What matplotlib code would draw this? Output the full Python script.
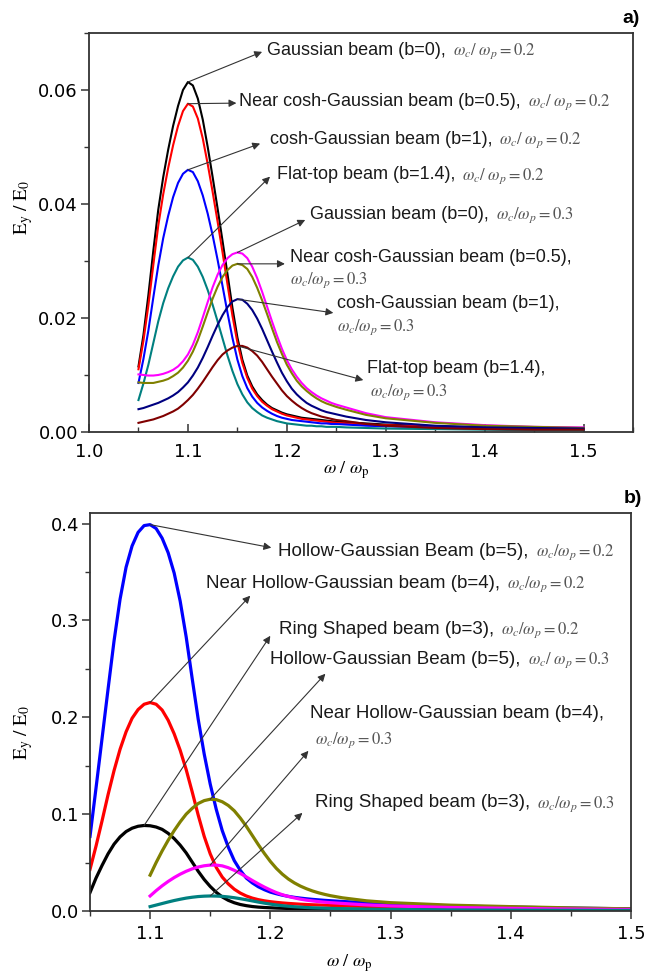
import numpy as np
import matplotlib
matplotlib.use('Agg')
import matplotlib.pyplot as plt
from matplotlib.ticker import MultipleLocator, FormatStrFormatter

plt.rcParams['font.family'] = ['Liberation Sans', 'DejaVu Sans']
plt.rcParams['mathtext.fontset'] = 'stix'

# frequency grid  omega / omega_p
freq = [1.050, 1.055, 1.060, 1.065, 1.070, 1.075, 1.080, 1.085,
        1.090, 1.095, 1.100, 1.105, 1.110, 1.115, 1.120, 1.125,
        1.130, 1.135, 1.140, 1.145, 1.150, 1.155, 1.160, 1.165,
        1.170, 1.175, 1.180, 1.185, 1.190, 1.195, 1.200, 1.205,
        1.210, 1.215, 1.220, 1.225, 1.230, 1.235, 1.240, 1.245,
        1.250, 1.260, 1.280, 1.300, 1.350, 1.400, 1.450, 1.500]
freq_late = freq[10:]   # panel b curves for wc/wp = 0.3 start at 1.10

# ---- panel a ----
a_gauss_02 = [0.0115, 0.0170, 0.0240, 0.0318, 0.0390, 0.0447, 0.0495, 0.0537,
              0.0572, 0.0600, 0.0614, 0.0608, 0.0585, 0.0548, 0.0500, 0.0447,
              0.0392, 0.0335, 0.0277, 0.0218, 0.0166, 0.0127, 0.0099, 0.0080,
              0.0066, 0.0056, 0.0048, 0.0042, 0.0038, 0.0034, 0.0031, 0.0029,
              0.0027, 0.0025, 0.0024, 0.0023, 0.0022, 0.0021, 0.0020, 0.0019,
              0.0018, 0.0017, 0.0015, 0.0013, 0.0010, 0.0008, 0.0007, 0.0006]
a_ncg_02 = [0.0110, 0.0160, 0.0222, 0.0293, 0.0362, 0.0417, 0.0463, 0.0503,
            0.0537, 0.0563, 0.0576, 0.0571, 0.0550, 0.0515, 0.0470, 0.0421,
            0.0369, 0.0315, 0.0259, 0.0204, 0.0157, 0.0121, 0.0095, 0.0076,
            0.0063, 0.0053, 0.0046, 0.0040, 0.0036, 0.0032, 0.0029, 0.0027,
            0.0025, 0.0023, 0.0022, 0.0021, 0.0020, 0.0019, 0.0018, 0.0017,
            0.0016, 0.0015, 0.0013, 0.0012, 0.0009, 0.0007, 0.0006, 0.0005]
a_cg_02 = [0.0086, 0.0128, 0.0178, 0.0236, 0.0292, 0.0340, 0.0379, 0.0412,
           0.0437, 0.0453, 0.0460, 0.0456, 0.0440, 0.0415, 0.0383, 0.0345,
           0.0302, 0.0256, 0.0209, 0.0165, 0.0127, 0.0098, 0.0077, 0.0062,
           0.0051, 0.0043, 0.0037, 0.0032, 0.0028, 0.0025, 0.0023, 0.0021,
           0.0020, 0.0019, 0.0018, 0.0017, 0.0016, 0.0015, 0.0015, 0.0014,
           0.0014, 0.0013, 0.0011, 0.0010, 0.0008, 0.0006, 0.0005, 0.0004]
a_ft_02 = [0.0056, 0.0085, 0.0118, 0.0156, 0.0194, 0.0226, 0.0252, 0.0273,
           0.0290, 0.0301, 0.0306, 0.0302, 0.0290, 0.0272, 0.0249, 0.0223,
           0.0194, 0.0164, 0.0134, 0.0107, 0.0084, 0.0066, 0.0052, 0.0042,
           0.0035, 0.0029, 0.0025, 0.0022, 0.0019, 0.0017, 0.0015, 0.0014,
           0.0013, 0.0012, 0.0011, 0.0011, 0.0010, 0.0010, 0.0009, 0.0009,
           0.0009, 0.0008, 0.0007, 0.0006, 0.0005, 0.0004, 0.0003, 0.0003]
a_gauss_03 = [0.0101, 0.0100, 0.0099, 0.0099, 0.0100, 0.0102, 0.0105, 0.0109,
              0.0115, 0.0124, 0.0136, 0.0153, 0.0175, 0.0201, 0.0228, 0.0254,
              0.0276, 0.0293, 0.0305, 0.0312, 0.0315, 0.0313, 0.0305, 0.0290,
              0.0270, 0.0246, 0.0220, 0.0194, 0.0169, 0.0146, 0.0126, 0.0110,
              0.0097, 0.0086, 0.0077, 0.0070, 0.0064, 0.0059, 0.0055, 0.0051,
              0.0048, 0.0043, 0.0033, 0.0026, 0.0017, 0.0012, 0.0009, 0.0008]
a_ncg_03 = [0.0087, 0.0086, 0.0086, 0.0086, 0.0088, 0.0090, 0.0093, 0.0098,
            0.0104, 0.0113, 0.0125, 0.0141, 0.0161, 0.0185, 0.0210, 0.0234,
            0.0255, 0.0272, 0.0284, 0.0292, 0.0295, 0.0293, 0.0286, 0.0272,
            0.0253, 0.0231, 0.0207, 0.0182, 0.0158, 0.0137, 0.0118, 0.0103,
            0.0090, 0.0080, 0.0072, 0.0065, 0.0059, 0.0054, 0.0050, 0.0047,
            0.0044, 0.0039, 0.0030, 0.0024, 0.0016, 0.0011, 0.0009, 0.0007]
a_cg_03 = [0.0040, 0.0042, 0.0045, 0.0048, 0.0051, 0.0055, 0.0059, 0.0064,
           0.0070, 0.0078, 0.0087, 0.0099, 0.0113, 0.0130, 0.0149, 0.0169,
           0.0188, 0.0205, 0.0219, 0.0229, 0.0233, 0.0232, 0.0225, 0.0214,
           0.0199, 0.0181, 0.0161, 0.0141, 0.0122, 0.0104, 0.0089, 0.0076,
           0.0066, 0.0058, 0.0051, 0.0046, 0.0042, 0.0038, 0.0035, 0.0033,
           0.0031, 0.0027, 0.0021, 0.0017, 0.0011, 0.0008, 0.0007, 0.0006]
a_ft_03 = [0.0016, 0.0018, 0.0020, 0.0022, 0.0025, 0.0028, 0.0032, 0.0036,
           0.0041, 0.0048, 0.0056, 0.0065, 0.0076, 0.0088, 0.0101, 0.0114,
           0.0126, 0.0136, 0.0143, 0.0148, 0.0151, 0.0151, 0.0148, 0.0142,
           0.0134, 0.0123, 0.0110, 0.0097, 0.0085, 0.0073, 0.0063, 0.0055,
           0.0048, 0.0042, 0.0037, 0.0033, 0.0030, 0.0027, 0.0025, 0.0023,
           0.0021, 0.0019, 0.0014, 0.0011, 0.0007, 0.0005, 0.0004, 0.0004]

# ---- panel b ----
b_hg_02 = [0.077, 0.127, 0.178, 0.229, 0.279, 0.322, 0.355, 0.377,
           0.391, 0.398, 0.399, 0.395, 0.385, 0.370, 0.349, 0.320,
           0.283, 0.240, 0.198, 0.162, 0.131, 0.105, 0.083, 0.066,
           0.052, 0.042, 0.034, 0.029, 0.025, 0.022, 0.0195, 0.0178,
           0.0163, 0.0151, 0.0141, 0.0133, 0.0126, 0.0120, 0.0115, 0.0110,
           0.0106, 0.0098, 0.0085, 0.0072, 0.0052, 0.0040, 0.0030, 0.0022]
b_nhg_02 = [0.043, 0.067, 0.093, 0.120, 0.145, 0.167, 0.185, 0.199,
            0.208, 0.2135, 0.2153, 0.2135, 0.2075, 0.197, 0.183, 0.166,
            0.146, 0.123, 0.099, 0.077, 0.059, 0.045, 0.035, 0.028,
            0.0225, 0.0185, 0.0155, 0.0133, 0.0117, 0.0105, 0.0096, 0.0089,
            0.0083, 0.0078, 0.0074, 0.0070, 0.0067, 0.0064, 0.0062, 0.0060,
            0.0058, 0.0054, 0.0047, 0.0041, 0.0031, 0.0025, 0.0020, 0.0016]
b_rs_02 = [0.019, 0.034, 0.047, 0.059, 0.069, 0.0765, 0.082, 0.0855,
           0.0875, 0.0883, 0.0880, 0.0867, 0.0843, 0.0802, 0.0748, 0.0680,
           0.0600, 0.0505, 0.0410, 0.0325, 0.0253, 0.0193, 0.0145, 0.0110,
           0.0085, 0.0067, 0.0055, 0.0046, 0.0040, 0.0036, 0.0033, 0.0030,
           0.0028, 0.0026, 0.0025, 0.0024, 0.0023, 0.0022, 0.0021, 0.0020,
           0.0019, 0.0018, 0.0015, 0.0013, 0.0010, 0.0008, 0.0007, 0.0006]
b_hg_03 = [0.037, 0.050, 0.062, 0.073, 0.083, 0.092, 0.100, 0.106,
           0.111, 0.114, 0.1154, 0.1150, 0.1128, 0.1090, 0.1035, 0.0960,
           0.0875, 0.0780, 0.0685, 0.0595, 0.0512, 0.0440, 0.0380, 0.0330,
           0.0290, 0.0257, 0.0230, 0.0207, 0.0188, 0.0172, 0.0158,
           0.0136, 0.0105, 0.0086, 0.0060, 0.0045, 0.0032, 0.0022]
b_nhg_03 = [0.0155, 0.0210, 0.0260, 0.0305, 0.0345, 0.0380, 0.0410, 0.0435,
            0.0454, 0.0467, 0.0474, 0.0474, 0.0466, 0.0447, 0.0420, 0.0388,
            0.0352, 0.0315, 0.0280, 0.0247, 0.0217, 0.0190, 0.0168, 0.0150,
            0.0135, 0.0122, 0.0112, 0.0104, 0.0097, 0.0091, 0.0086,
            0.0078, 0.0063, 0.0052, 0.0036, 0.0027, 0.0020, 0.0015]
b_rs_03 = [0.0045, 0.0061, 0.0077, 0.0093, 0.0108, 0.0121, 0.0133, 0.0142,
           0.0149, 0.0153, 0.0155, 0.0154, 0.0151, 0.0145, 0.0137, 0.0127,
           0.0116, 0.0104, 0.0092, 0.0081, 0.0071, 0.0062, 0.0055, 0.0049,
           0.0044, 0.0040, 0.0036, 0.0033, 0.0031, 0.0029, 0.0027,
           0.0024, 0.0019, 0.0016, 0.0011, 0.0008, 0.0007, 0.0006]

ratio_02 = r'$\omega_c/\ \omega_p = 0.2$'
ratio_02b = r'$\omega_c/\omega_p = 0.2$'
ratio_03 = r'$\omega_c/\omega_p = 0.3$'
ratio_03b = r'$\omega_c/\ \omega_p = 0.3$'

arrow_kw = dict(arrowstyle='-|>', color='#333333', lw=0.8, mutation_scale=11,
                shrinkA=0, shrinkB=0)


def style_axes(ax, xdir):
    for s in ax.spines.values():
        s.set_linewidth(1.3)
        s.set_color('#333333')
    ax.tick_params(axis='y', which='both', direction='out', right=False, labelsize=13,
                   labelfontfamily='DejaVu Sans', color='#333333', pad=2)
    ax.tick_params(axis='x', which='both', direction=xdir, top=False, labelsize=13,
                   labelfontfamily='DejaVu Sans', color='#333333')
    ax.tick_params(which='major', length=6, width=1.1)
    ax.tick_params(which='minor', length=3.5, width=1.0)


def label(ax, x, y, tip, pos, text, ratio, size, ratio_pos=None):
    i = int(np.argmax(y))
    ax.annotate('', xy=tip, xytext=(x[i], y[i]), arrowprops=arrow_kw)
    t = ax.text(pos[0], pos[1], text, ha='left', va='center', fontsize=size, color='#1a1a1a')
    if ratio_pos is None:
        ax.annotate(ratio, xy=(1, 0.45), xycoords=t, xytext=(5, 0), textcoords='offset points',
                    ha='left', va='center', fontsize=12, color='#555555')
    else:
        ax.text(ratio_pos[0], ratio_pos[1], ratio, ha='left', va='center', fontsize=12,
                color='#555555')


fig = plt.figure(figsize=(6.57, 9.74), dpi=100)

# ---------- a) ----------
ax1 = fig.add_axes([0.1355, 0.5565, 0.828, 0.4096])
line_kw = dict(lw=1.5, solid_joinstyle='round')
ax1.plot(freq, a_gauss_02, color='black', **line_kw)
ax1.plot(freq, a_ncg_02, color='red', **line_kw)
ax1.plot(freq, a_cg_02, color='#0000ff', **line_kw)
ax1.plot(freq, a_ft_02, color='#008080', **line_kw)
ax1.plot(freq, a_gauss_03, color='#ff00ff', **line_kw)
ax1.plot(freq, a_ncg_03, color='#808000', **line_kw)
ax1.plot(freq, a_cg_03, color='#000080', **line_kw)
ax1.plot(freq, a_ft_03, color='#800000', **line_kw)
ax1.set_xlim(1.0, 1.55)
ax1.set_ylim(0, 0.07)
ax1.xaxis.set_major_locator(MultipleLocator(0.1))
ax1.xaxis.set_minor_locator(MultipleLocator(0.05))
ax1.yaxis.set_major_locator(MultipleLocator(0.02))
ax1.yaxis.set_minor_locator(MultipleLocator(0.01))
ax1.xaxis.set_major_formatter(FormatStrFormatter('%.1f'))
ax1.yaxis.set_major_formatter(FormatStrFormatter('%.2f'))
style_axes(ax1, 'in')
ax1.tick_params(axis='x', pad=8)
ax1.set_xlabel(r'$\omega\ /\ \omega_\mathrm{p}$', fontsize=13)
ax1.xaxis.set_label_coords(0.472, -0.068)
ax1.set_ylabel(r'$\mathrm{E_y\ /\ E_0}$', fontsize=14)
ax1.yaxis.set_label_coords(-0.10, 0.564)

fs = 13
label(ax1, freq, a_gauss_02, (1.175, 0.0667), (1.180, 0.0670), 'Gaussian beam (b=0),', ratio_02, fs)
label(ax1, freq, a_ncg_02, (1.149, 0.0577), (1.152, 0.0580), 'Near cosh-Gaussian beam (b=0.5),', ratio_02, fs)
label(ax1, freq, a_cg_02, (1.173, 0.0506), (1.183, 0.0514), 'cosh-Gaussian beam (b=1),', ratio_02, fs)
label(ax1, freq, a_ft_02, (1.183, 0.0448), (1.190, 0.0451), 'Flat-top beam (b=1.4),', ratio_02, fs)
label(ax1, freq, a_gauss_03, (1.2186, 0.0372), (1.2237, 0.0382), 'Gaussian beam (b=0),', ratio_03, fs)
label(ax1, freq, a_ncg_03, (1.198, 0.0295), (1.2034, 0.0307), 'Near cosh-Gaussian beam (b=0.5),',
      ratio_03, fs, ratio_pos=(1.2034, 0.0267))
label(ax1, freq, a_cg_03, (1.247, 0.0209), (1.251, 0.0226), 'cosh-Gaussian beam (b=1),',
      ratio_03, fs, ratio_pos=(1.251, 0.0184))
label(ax1, freq, a_ft_03, (1.2773, 0.0091), (1.2814, 0.0112), 'Flat-top beam (b=1.4),',
      ratio_03, fs, ratio_pos=(1.284, 0.0070))

# ---------- b) ----------
ax2 = fig.add_axes([0.137, 0.0647, 0.8234, 0.4086])
line_kw = dict(lw=2.3, solid_joinstyle='round')
ax2.plot(freq, b_hg_02, color='#0000ff', **line_kw)
ax2.plot(freq, b_nhg_02, color='red', **line_kw)
ax2.plot(freq, b_rs_02, color='black', **line_kw)
ax2.plot(freq_late, b_hg_03, color='#808000', **line_kw)
ax2.plot(freq_late, b_nhg_03, color='#ff00ff', **line_kw)
ax2.plot(freq_late, b_rs_03, color='#008080', **line_kw)
ax2.set_xlim(1.05, 1.5)
ax2.set_ylim(0, 0.411)
ax2.set_xticks([1.1, 1.2, 1.3, 1.4, 1.5])
ax2.xaxis.set_minor_locator(MultipleLocator(0.05))
ax2.yaxis.set_major_locator(MultipleLocator(0.1))
ax2.yaxis.set_minor_locator(MultipleLocator(0.05))
ax2.xaxis.set_major_formatter(FormatStrFormatter('%.1f'))
ax2.yaxis.set_major_formatter(FormatStrFormatter('%.1f'))
style_axes(ax2, 'out')
ax2.tick_params(axis='x', pad=4)
ax2.set_xlabel(r'$\omega\ /\ \omega_\mathrm{p}$', fontsize=13)
ax2.xaxis.set_label_coords(0.48, -0.103)
ax2.set_ylabel(r'$\mathrm{E_y\ /\ E_0}$', fontsize=14)
ax2.yaxis.set_label_coords(-0.1015, 0.45)

fs = 13.5
label(ax2, freq, b_hg_02, (1.2008, 0.3752), (1.2067, 0.371), 'Hollow-Gaussian Beam (b=5),', ratio_02b, fs)
label(ax2, freq, b_nhg_02, (1.1833, 0.3256), (1.1467, 0.338), 'Near Hollow-Gaussian beam (b=4),', ratio_02b, fs)
label(ax2, freq, b_rs_02, (1.2, 0.2842), (1.2075, 0.2904), 'Ring Shaped beam (b=3),', ratio_02b, fs)
label(ax2, freq_late, b_hg_03, (1.2458, 0.245), (1.20, 0.2594), 'Hollow-Gaussian Beam (b=5),', ratio_03b, fs)
label(ax2, freq_late, b_nhg_03, (1.2317, 0.1654), (1.2333, 0.2036), 'Near Hollow-Gaussian beam (b=4),',
      ratio_03, fs, ratio_pos=(1.2375, 0.1767))
label(ax2, freq_late, b_rs_03, (1.2267, 0.1013), (1.2375, 0.1116), 'Ring Shaped beam (b=3),', ratio_03, fs)

fig.text(0.974, 0.9815, 'a)', ha='right', va='center', fontsize=14, fontweight='bold')
fig.text(0.977, 0.4887, 'b)', ha='right', va='center', fontsize=14, fontweight='bold')

fig.savefig('out.png', dpi=100)
